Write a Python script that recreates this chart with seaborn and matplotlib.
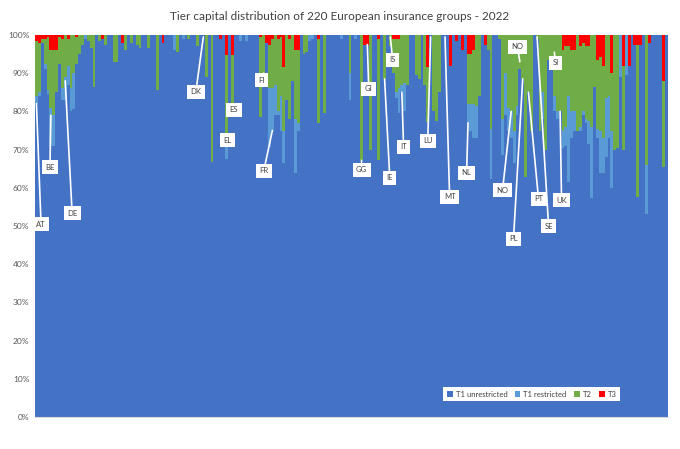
import numpy as np
import pandas as pd
import matplotlib.pyplot as plt
import seaborn as sns
from matplotlib.patches import Patch

# share of each tier in % (220 groups, ordered by country); T1 unrestricted is the rest
t1_restricted = [
    2, 1, 0, 1.5, 1, 10, 8, 0, 0, 3,
    6, 5, 6, 9.5, 0, 0, 0, 1, 0, 0,
    0, 0, 0, 0, 0, 0, 0, 0, 0, 0,
    0, 0, 0, 0, 0, 0, 0, 0, 0, 0,
    0, 0, 0, 0, 0, 0, 0, 0, 4, 0,
    0, 1, 0, 0, 0, 0, 0, 0, 0, 0,
    0, 0, 0, 0, 0, 0, 4.5, 0, 0, 0,
    0, 1.5, 0, 1.5, 0, 0, 0, 0, 0, 0,
    0, 15.2, 11, 8, 1, 9, 8.5, 0, 0, 0,
    14, 2, 0, 0, 0, 1.5, 1, 0, 0, 0,
    0, 0, 0, 0, 0, 0, 1, 0, 0, 7,
    0, 1, 0, 0, 0, 0, 0, 0, 0, 0,
    0, 0, 0, 0, 0, 1.5, 6.5, 2, 7.5, 0,
    0, 0, 0, 0, 0, 0, 0, 0, 0, 0,
    0, 0, 0, 0, 0, 0, 0, 0, 0, 0,
    5, 7, 9, 8.5, 0, 0, 0, 0, 13.1, 0,
    0, 0, 9.5, 11, 6, 7, 8.5, 2.5, 0, 0,
    0, 0, 0, 0, 0, 0, 7, 0, 0, 0,
    4, 2, 0, 4.5, 5, 22.5, 7, 5, 0, 1,
    1, 1, 6, 18.8, 0, 2.5, 11, 9, 15.5, 11,
    15, 0, 0, 11, 0, 10.5, 0, 0, 0, 0,
    0, 0, 12.8, 0, 0, 0, 0, 0, 0, 0,
]
t2 = [
    14.5, 13, 1, 6.5, 14, 15, 17, 11, 7, 13,
    11, 7, 14, 10, 7, 5, 2.5, 0, 1.5, 3.5,
    13.5, 0, 1.5, 0, 2.5, 0, 0, 7, 7, 0,
    0, 4, 0, 2, 0, 2.5, 3.5, 0, 0, 3.5,
    0, 0, 14.5, 0, 0, 0, 0, 0, 0, 4.5,
    0, 0, 0, 1, 0, 0, 3, 0, 0, 11,
    0, 33.2, 0, 0, 0, 0, 22.8, 0, 13.3, 0,
    0, 0, 0, 0, 0, 0, 0, 0, 21, 10,
    0, 11.5, 13, 13, 19, 15.5, 16.6, 17, 21, 12,
    18, 19, 0, 5, 4.5, 0, 0, 0, 22, 0,
    20.5, 0, 0, 0, 0, 0, 0, 0, 0, 10,
    0, 0, 0, 32.8, 0, 0, 30, 0, 0, 31.8,
    0, 11.5, 0, 3, 9, 14, 13, 13, 12.5, 13,
    0, 0, 10.5, 11.5, 0, 13, 14.5, 0, 20, 22.5,
    15, 0, 0, 0, 0, 0, 0, 0, 0, 0,
    13, 13, 14, 18.5, 16, 0, 0, 4, 24.5, 0,
    0, 1, 22, 10, 19, 20, 25, 18.5, 9, 11.5,
    37.1, 15, 25, 0, 1, 25, 15, 30, 6.5, 7,
    16, 20, 20, 21, 21, 13, 16, 16, 25, 21,
    18, 19, 19.5, 24, 13.5, 17.9, 19.2, 19, 16.5, 16,
    15, 30, 29.5, 0, 22, 0, 0, 0, 0, 39.7,
    0, 0, 34, 0, 0, 0, 0, 0, 22.5, 0,
]
t3 = [
    1.5, 2, 1, 1, 0.5, 4, 4, 4, 0.5, 1,
    0, 1, 0, 0, 0.5, 0, 0, 0, 0, 0,
    0, 0, 0, 1, 0, 0, 0, 0, 0, 0,
    2, 0, 0, 0, 0, 0, 0, 0, 0, 0,
    0, 0, 0, 0, 2, 0, 0, 0, 0, 0,
    0, 0, 0, 0, 0, 0, 0, 0, 0, 0,
    0, 0, 0, 0, 1, 0, 5.2, 0, 5.2, 0,
    0, 0, 0, 0, 0, 0, 0, 0, 0.5, 0,
    2, 2.5, 1, 0, 1, 0.5, 8.4, 0, 1, 0,
    4, 4, 0, 0, 0, 0, 0, 0, 1, 0,
    0, 0, 0, 0, 0, 0, 0, 0, 0, 0,
    0, 0, 0, 0, 2.5, 2.5, 0, 0, 0, 1,
    0, 0, 0, 0, 1, 1, 1, 0, 0, 0,
    0, 0, 0, 0, 0, 0, 8.3, 0, 0, 0,
    0, 0, 0, 0, 8, 0, 1.5, 0, 4, 0,
    5, 5, 4, 0, 0, 0, 2.5, 0, 0, 0,
    0, 0, 0, 0, 0, 0, 0, 0, 0, 0,
    0, 0, 0, 0, 0, 0, 0, 0, 0, 0,
    0, 0, 0, 4, 3, 3, 4, 4, 0, 3,
    2, 3, 3, 0, 0, 6.6, 5.8, 8, 0, 0,
    10, 0, 0, 0, 8, 0, 8, 0, 2.7, 2.7,
    2.7, 0, 0, 2, 0, 0, 0, 0, 12, 0,
]
t1_unrestricted = 100 - np.array(t1_restricted) - np.array(t2) - np.array(t3)

# country labels, the bar each one points at and where its leader line ends
countries = ["AT", "BE", "DE", "DK", "EL", "ES", "FI", "FR", "GG", "GI", "IS", "IE",
             "IT", "LU", "MT", "NL", "NO", "NO", "PL", "PT", "SE", "SI", "UK"]
country_bar = [0, 5, 10, 58, 66, 68, 79, 82, 113, 115, 123, 121,
               127, 137, 142, 150, 168, 165, 169, 171, 174, 180, 182]
country_val = [82, 79, 88, 99.5, 72, 81.5, 90, 75, 67.2, 97.5, 99.5, 88.5,
               85, 99.5, 99.5, 77, 93, 80, 88.5, 85, 99.5, 95.5, 80]
label_x = [1.6, 4.7, 12.4, 55.4, 66.5, 68.6, 78.3, 79, 113, 115.5, 123.8, 122.8,
           127.6, 136, 143.6, 149.5, 167.2, 162, 165.8, 174.5, 178, 180.4, 182.5]
label_y = [50.5, 65.4, 53.4, 85.1, 72.5, 80.4, 88.2, 64.4, 64.7, 85.9, 93.5, 62.6,
           70.7, 72.3, 57.6, 63.9, 96.9, 59.4, 46.6, 57.1, 50, 92.7, 56.8]

colors = {"T1 unrestricted": "#4472C4", "T1 restricted": "#5B9BD5",
          "T2": "#70AD47", "T3": "#FF0000"}

df = pd.DataFrame({"group": np.arange(len(t2)),
                   "T1 unrestricted": t1_unrestricted,
                   "T1 restricted": t1_restricted,
                   "T2": t2, "T3": t3})

sns.set_style("white")
plt.rcParams["font.family"] = ["Lato", "DejaVu Sans"]

fig = plt.figure(figsize=(6.8, 4.49), dpi=100)
ax = fig.add_axes([35 / 680, 1 - 417 / 449, 633 / 680, 382 / 449])

# stacked bars: draw the cumulative totals from the top layer down
layers = ["T1 unrestricted", "T1 restricted", "T2", "T3"]
for k in range(len(layers), 0, -1):
    cum = df[layers[:k]].sum(axis=1)
    sns.barplot(x=df["group"], y=cum, color=colors[layers[k - 1]], saturation=1,
                width=1, errorbar=None, linewidth=0, antialiased=False, ax=ax)

ax.set_xlim(-0.5, len(t2) - 0.5)
ax.set_ylim(0, 100)
ax.set_xticks([])
ax.set_xlabel("")
ax.set_ylabel("")
ax.set_yticks(range(0, 101, 10))
ax.set_yticklabels([f"{v}%" for v in range(0, 101, 10)])
ax.tick_params(axis="y", length=0, pad=4, labelsize=6, labelcolor="#595959")
for s in ["top", "right", "left"]:
    ax.spines[s].set_visible(False)
ax.spines["bottom"].set_color("#D9D9D9")
ax.spines["bottom"].set_linewidth(0.8)

for name, b, v, lx, ly in zip(countries, country_bar, country_val, label_x, label_y):
    ax.annotate(name, xy=(b, v), xytext=(lx, ly), ha="center", va="center",
                fontsize=5.5, color="#404040",
                bbox=dict(boxstyle="square,pad=0.45", fc="white", ec="none"),
                arrowprops=dict(arrowstyle="-", color="white", lw=1.2,
                                shrinkA=0, shrinkB=0))

handles = [Patch(facecolor=colors[n], edgecolor="none") for n in layers]
leg = ax.legend(handles, layers, ncol=4, loc="center", bbox_to_anchor=(0.785, 0.06),
                fontsize=5.5, frameon=True, fancybox=False, handlelength=0.7,
                handleheight=0.7, handletextpad=0.4, columnspacing=1.0,
                borderpad=0.5)
leg.get_frame().set_facecolor("white")
leg.get_frame().set_edgecolor("none")
leg.get_frame().set_alpha(1)
for t in leg.get_texts():
    t.set_color("#404040")

fig.suptitle("Tier capital distribution of 220 European insurance groups - 2022",
             y=1 - 17 / 449, va="center", fontsize=8.5, color="#404040")

plt.savefig("out.png", dpi=100)
